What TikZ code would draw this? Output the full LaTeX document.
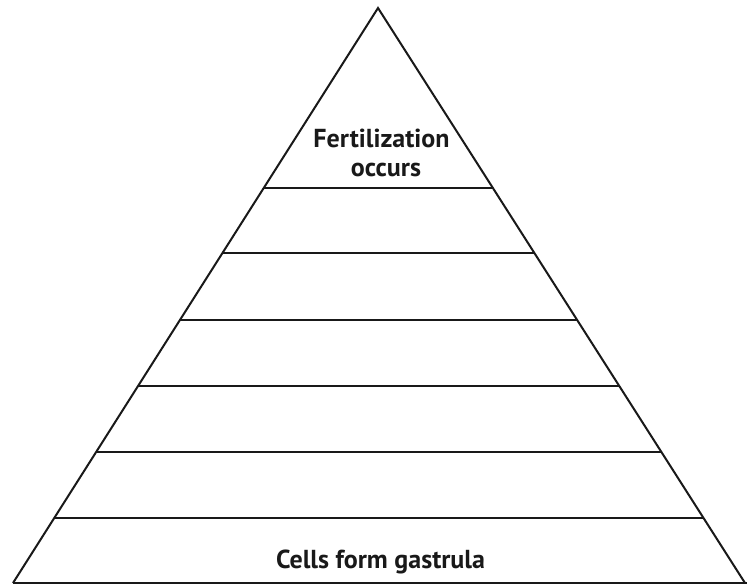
\documentclass[tikz,border=0pt]{standalone}
\usepackage{fontspec}
\setmainfont{PT Sans}
\begin{document}
\begin{tikzpicture}[x=1pt,y=-1pt,
  edge/.style={line width=2pt,black!90},
  lbl/.style={font=\bfseries\fontsize{26}{30}\selectfont,text=black!90,align=center,inner sep=0pt}]
\useasboundingbox (0,0) rectangle (747,585);
\coordinate (apex) at (378,8);
\coordinate (bl) at (13,583);
\coordinate (br) at (745,583);
\coordinate (bend) at (747,583);
\draw[edge,line join=miter] (bl) -- (apex) -- (br);
\draw[edge] (bl) -- (bend);
\foreach \y [count=\i] in {188,253,320,386,452,518}{
  \pgfmathsetmacro{\dx}{(365/575)*(\y-8)}
  \pgfmathsetmacro{\dr}{(367/575)*(\y-8)}
  \coordinate (l\i) at ({378-\dx},\y);
  \coordinate (r\i) at ({378+\dr},\y);
  \draw[edge] (l\i) -- (r\i);
}
\node[lbl,anchor=base] (fert) at (381.5,148) {Fertilization};
\node[lbl,anchor=base] (occ) at (386,177) {occurs};
\node[lbl,anchor=base] (cells) at (380.5,568) {Cells form gastrula};
\end{tikzpicture}
\end{document}
